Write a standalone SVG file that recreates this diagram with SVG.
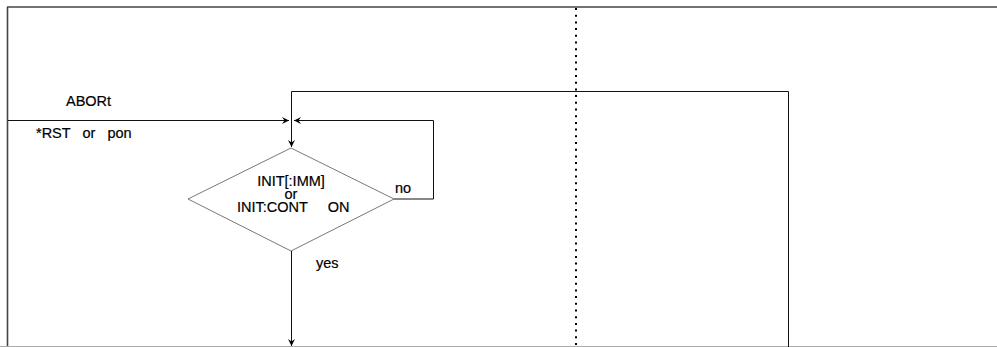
<svg xmlns="http://www.w3.org/2000/svg" width="997" height="347" viewBox="0 0 997 347">
<style>
.t{font-family:"Liberation Sans",Arial,sans-serif;font-size:14.5px;fill:#000;stroke:#000;stroke-width:0.2}
.ln{fill:none;stroke:#111;stroke-width:1}
.fr{fill:none;stroke:#444;stroke-width:1.6}
</style>
<defs>
<marker id="ah" markerWidth="8" markerHeight="8" refX="7" refY="4" orient="auto" markerUnits="userSpaceOnUse">
<path d="M0,0.5 L7,4 L0,7.5 L2.5,4 Z" fill="#000"/>
</marker>
</defs>
<rect width="997" height="347" fill="#fff"/>
<g id="frame">
<line class="fr" x1="7" y1="7" x2="997" y2="7"/>
<line class="fr" x1="7.5" y1="7" x2="7.5" y2="347"/>
<line x1="0" y1="346.5" x2="997" y2="346.5" stroke="#aaa" stroke-width="1"/>
<line x1="576" y1="8" x2="576" y2="346" stroke="#000" stroke-width="2" stroke-dasharray="2 4.7"/>
</g>
<g id="decision">
<polygon points="291,148 394,199 291,251 188,199" fill="none" stroke="#555" stroke-width="0.8"/>
<text class="t" x="291" y="185.5" text-anchor="middle">INIT[:IMM]</text>
<text class="t" x="291" y="198.5" text-anchor="middle">or</text>
<text class="t" x="237" y="212" xml:space="preserve">INIT:CONT     ON</text>
</g>
<g id="connectors">
<line class="ln" x1="8" y1="120.5" x2="289" y2="120.5" marker-end="url(#ah)"/>
<polyline class="ln" points="394,199 433.5,199 433.5,120.5 294,120.5" marker-end="url(#ah)"/>
<polyline class="ln" points="788.5,347 788.5,91.5 291.5,91.5 291.5,147" marker-end="url(#ah)"/>
<line class="ln" x1="291.5" y1="251" x2="291.5" y2="346" marker-end="url(#ah)"/>
</g>
<g id="labels">
<text class="t" x="66" y="106">ABORt</text>
<text class="t" x="36" y="138" xml:space="preserve">*RST   or   pon</text>
<text class="t" x="395" y="193">no</text>
<text class="t" x="316" y="268">yes</text>
</g>
</svg>
